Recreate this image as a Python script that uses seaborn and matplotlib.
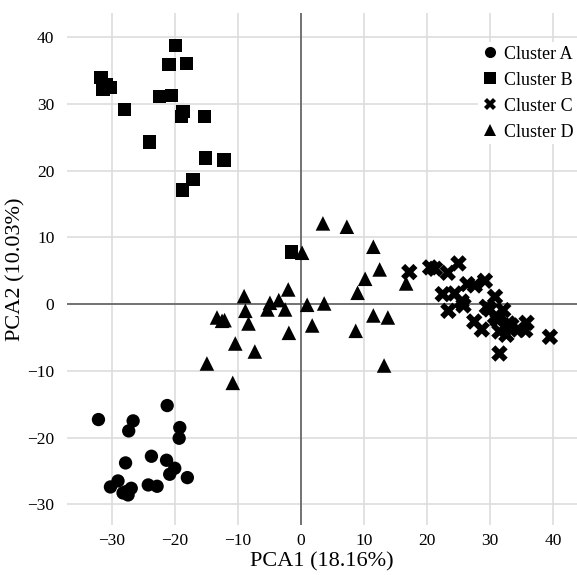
import pandas as pd
import numpy as np
import seaborn as sns
import matplotlib.pyplot as plt

sns.set_style('whitegrid')
plt.rcParams['font.family'] = ['Liberation Serif', 'DejaVu Serif']
plt.rcParams['axes.unicode_minus'] = True
plt.rcParams['text.color'] = 'black'
plt.rcParams['axes.labelcolor'] = 'black'

# PCA scores
a_x = [-32.1, -26.6, -27.3, -21.2, -19.2, -19.3, -27.8, -23.7, -21.3, -20.0,
       -20.8, -18.0, -30.2, -29.0, -27.7, -26.9, -27.4, -24.2, -22.8, -28.2]
a_y = [-17.3, -17.5, -19.0, -15.2, -18.5, -20.1, -23.8, -22.8, -23.4, -24.6,
       -25.5, -26.0, -27.4, -26.5, -28.1, -27.6, -28.6, -27.1, -27.3, -28.3]

b_x = [-19.9, -20.9, -18.1, -31.7, -31.4, -30.2, -28.0, -22.4, -20.5, -18.7,
       -18.9, -15.3, -24.0, -15.1, -12.2, -17.1, -18.8, -1.5, -30.8]
b_y = [38.8, 35.9, 36.1, 34.0, 32.2, 32.5, 29.2, 31.1, 31.3, 28.9,
       28.1, 28.1, 24.3, 21.9, 21.6, 18.7, 17.1, 7.8, 32.9]

c_x = [17.2, 20.5, 21.3, 23.3, 25.0, 22.5, 24.4, 23.4, 25.8, 25.5,
       26.4, 27.6, 29.2, 30.8, 30.0, 30.8, 32.1, 27.5, 28.7, 31.5,
       32.9, 32.6, 34.5, 35.8, 35.6, 39.5, 31.5, 29.5, 31.2, 33.4]
c_y = [4.8, 5.5, 5.3, 4.7, 6.1, 1.5, 1.6, -1.0, -0.2, 0.4,
       3.0, 2.8, 3.5, 1.1, -0.8, -1.9, -0.9, -2.6, -3.8, -4.1,
       -2.9, -4.6, -3.8, -2.8, -3.9, -4.9, -7.4, -0.4, -2.4, -3.2]

d_x = [3.5, 7.3, 11.5, 0.2, 12.5, 10.2, 9.0, -2.0, -9.0, -4.9,
       -3.5, -5.3, -2.5, 1.0, 3.7, -8.8, -13.3, -12.1, -12.5, -8.3,
       11.5, 13.8, 1.8, -1.9, 8.7, -10.4, -7.3, -14.9, 13.2, -10.8,
       16.7]
d_y = [12.1, 11.6, 8.6, 7.7, 5.2, 3.8, 1.7, 2.2, 1.2, 0.2,
       0.6, -0.8, -0.8, -0.1, 0.1, -1.0, -2.0, -2.4, -2.5, -2.9,
       -1.7, -2.0, -3.2, -4.3, -4.0, -5.9, -7.1, -8.9, -9.2, -11.8,
       3.1]

clusters = ['Cluster A', 'Cluster B', 'Cluster C', 'Cluster D']
shapes = {'Cluster A': 'o', 'Cluster B': 's', 'Cluster C': 'X', 'Cluster D': '^'}
areas = {'Cluster A': 92, 'Cluster B': 92, 'Cluster C': 140, 'Cluster D': 110}
legend_ms = {'Cluster A': 8, 'Cluster B': 8, 'Cluster C': 9, 'Cluster D': 8}

df = pd.concat([
    pd.DataFrame({'PCA1': a_x, 'PCA2': a_y, 'cluster': 'Cluster A'}),
    pd.DataFrame({'PCA1': b_x, 'PCA2': b_y, 'cluster': 'Cluster B'}),
    pd.DataFrame({'PCA1': c_x, 'PCA2': c_y, 'cluster': 'Cluster C'}),
    pd.DataFrame({'PCA1': d_x, 'PCA2': d_y, 'cluster': 'Cluster D'}),
], ignore_index=True)

fig = plt.figure(figsize=(5.77, 5.75), dpi=100)
ax = fig.add_axes([0.116, 0.087, 0.884, 0.890])

sns.scatterplot(data=df, x='PCA1', y='PCA2', style='cluster', style_order=clusters,
                markers=shapes, size='cluster', sizes=areas, size_order=clusters,
                color='black', linewidth=0, ax=ax, zorder=3)

ax.axhline(0, color='#555555', lw=1.1, zorder=2)
ax.axvline(0, color='#555555', lw=1.1, zorder=2)

ax.set_xlim(-37.1, 43.8)
ax.set_ylim(-33.1, 43.6)
ax.set_xticks(range(-30, 41, 10))
ax.set_yticks(range(-30, 41, 10))
ax.grid(True, color='#dddddd', lw=1.2)
for sp in ax.spines.values():
    sp.set_visible(False)
ax.tick_params(axis='both', length=0, labelsize=12.5, colors='black')
ax.tick_params(axis='y', pad=9)
ax.tick_params(axis='x', pad=6)

ax.set_xlabel('PCA1 (18.16%)', fontsize=16, labelpad=2)
ax.set_ylabel('PCA2 (10.03%)', fontsize=16, labelpad=1)

leg = ax.legend(loc='upper right', bbox_to_anchor=(1.0, 1 - 42 / 575),
                bbox_transform=fig.transFigure, fontsize=13, frameon=True,
                framealpha=1, facecolor='white', edgecolor='none',
                handlelength=1.0, handletextpad=0.25, borderpad=0.2,
                borderaxespad=0, labelspacing=0.5)
for h, t in zip(leg.legend_handles, leg.get_texts()):
    if hasattr(h, 'set_markersize'):
        h.set_markersize(legend_ms[t.get_text()])

plt.savefig('out.png', dpi=100)
